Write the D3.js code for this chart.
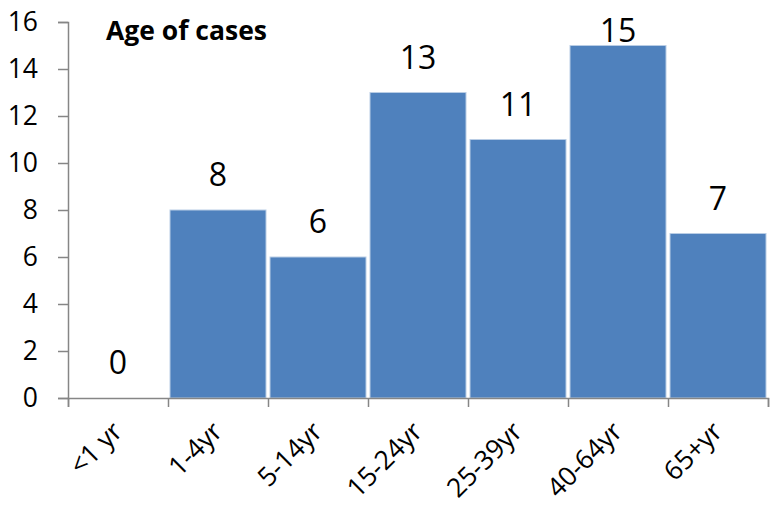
<!DOCTYPE html>
<html><head><meta charset="utf-8">
<script src="https://cdn.jsdelivr.net/npm/d3@7"></script>
<style>
body{margin:0;background:#fff;}
svg{display:block;font-family:"Open Sans",sans-serif;}
</style></head>
<body><svg id="c" width="779" height="512"></svg>
<script>
const categories = ["<1 yr","1-4yr","5-14yr","15-24yr","25-39yr","40-64yr","65+yr"];
const values = [0,8,6,13,11,15,7];
const yTicks = [0,2,4,6,8,10,12,14,16];
const title = "Age of cases";

const svg = d3.select("#c");
const m = {left:68, right:11, top:22, bottom:114};
const W = 779, H = 512;
const x = d3.scaleBand().domain(categories).range([m.left, W - m.right]).paddingInner(0.04).paddingOuter(0.02);
const xEdge = d3.scaleLinear().domain([0, categories.length]).range([m.left, W - m.right]);
const y = d3.scaleLinear().domain([0,16]).range([H - m.bottom, m.top]);
const axisColor = "#868686";

// bars
svg.selectAll("rect.bar").data(values).join("rect")
  .attr("class","bar")
  .attr("x",(d,i)=>x(categories[i]))
  .attr("width",x.bandwidth())
  .attr("y",d=>y(d))
  .attr("height",d=>y(0)-y(d))
  .attr("fill","#4F81BD")
  .attr("stroke","#B9CDE5").attr("stroke-width",1);

// y axis
const ya = svg.append("g").attr("transform",`translate(${m.left},0)`)
  .call(d3.axisLeft(y).tickValues(yTicks).tickSize(10).tickPadding(20));
ya.select(".domain").attr("stroke",axisColor).attr("stroke-width",1.5);
ya.selectAll(".tick line").attr("stroke",axisColor).attr("stroke-width",1.5);
ya.selectAll(".tick text").attr("font-size",26.5).attr("fill","#000").attr("font-family","'Open Sans',sans-serif");

// x axis line + ticks at category edges
const xa = svg.append("g").attr("transform",`translate(0,${y(0)})`)
  .call(d3.axisBottom(xEdge).tickValues(d3.range(categories.length+1)).tickSize(9).tickFormat(""));
xa.select(".domain").attr("stroke",axisColor).attr("stroke-width",1.5);
xa.selectAll(".tick line").attr("stroke",axisColor).attr("stroke-width",1.5);

// category labels
const cx = d => x(d) + x.bandwidth()/2;
svg.selectAll("text.cat").data(categories).join("text")
  .attr("class","cat")
  .attr("transform",d=>`translate(${cx(d)+6},${y(0)+35}) rotate(-45)`)
  .attr("text-anchor","end")
  .attr("font-size",26.5)
  .text(d=>d);

// value labels
svg.selectAll("text.val").data(values).join("text")
  .attr("class","val")
  .attr("x",(d,i)=>cx(categories[i]))
  .attr("y",d=>Math.max(y(d)-24, m.top+20))
  .attr("text-anchor","middle")
  .attr("font-size",32)
  .text(d=>d);

// title
svg.append("text").attr("x",106).attr("y",40)
  .attr("font-size",26.5).attr("font-weight","bold").text(title);
</script></body></html>
